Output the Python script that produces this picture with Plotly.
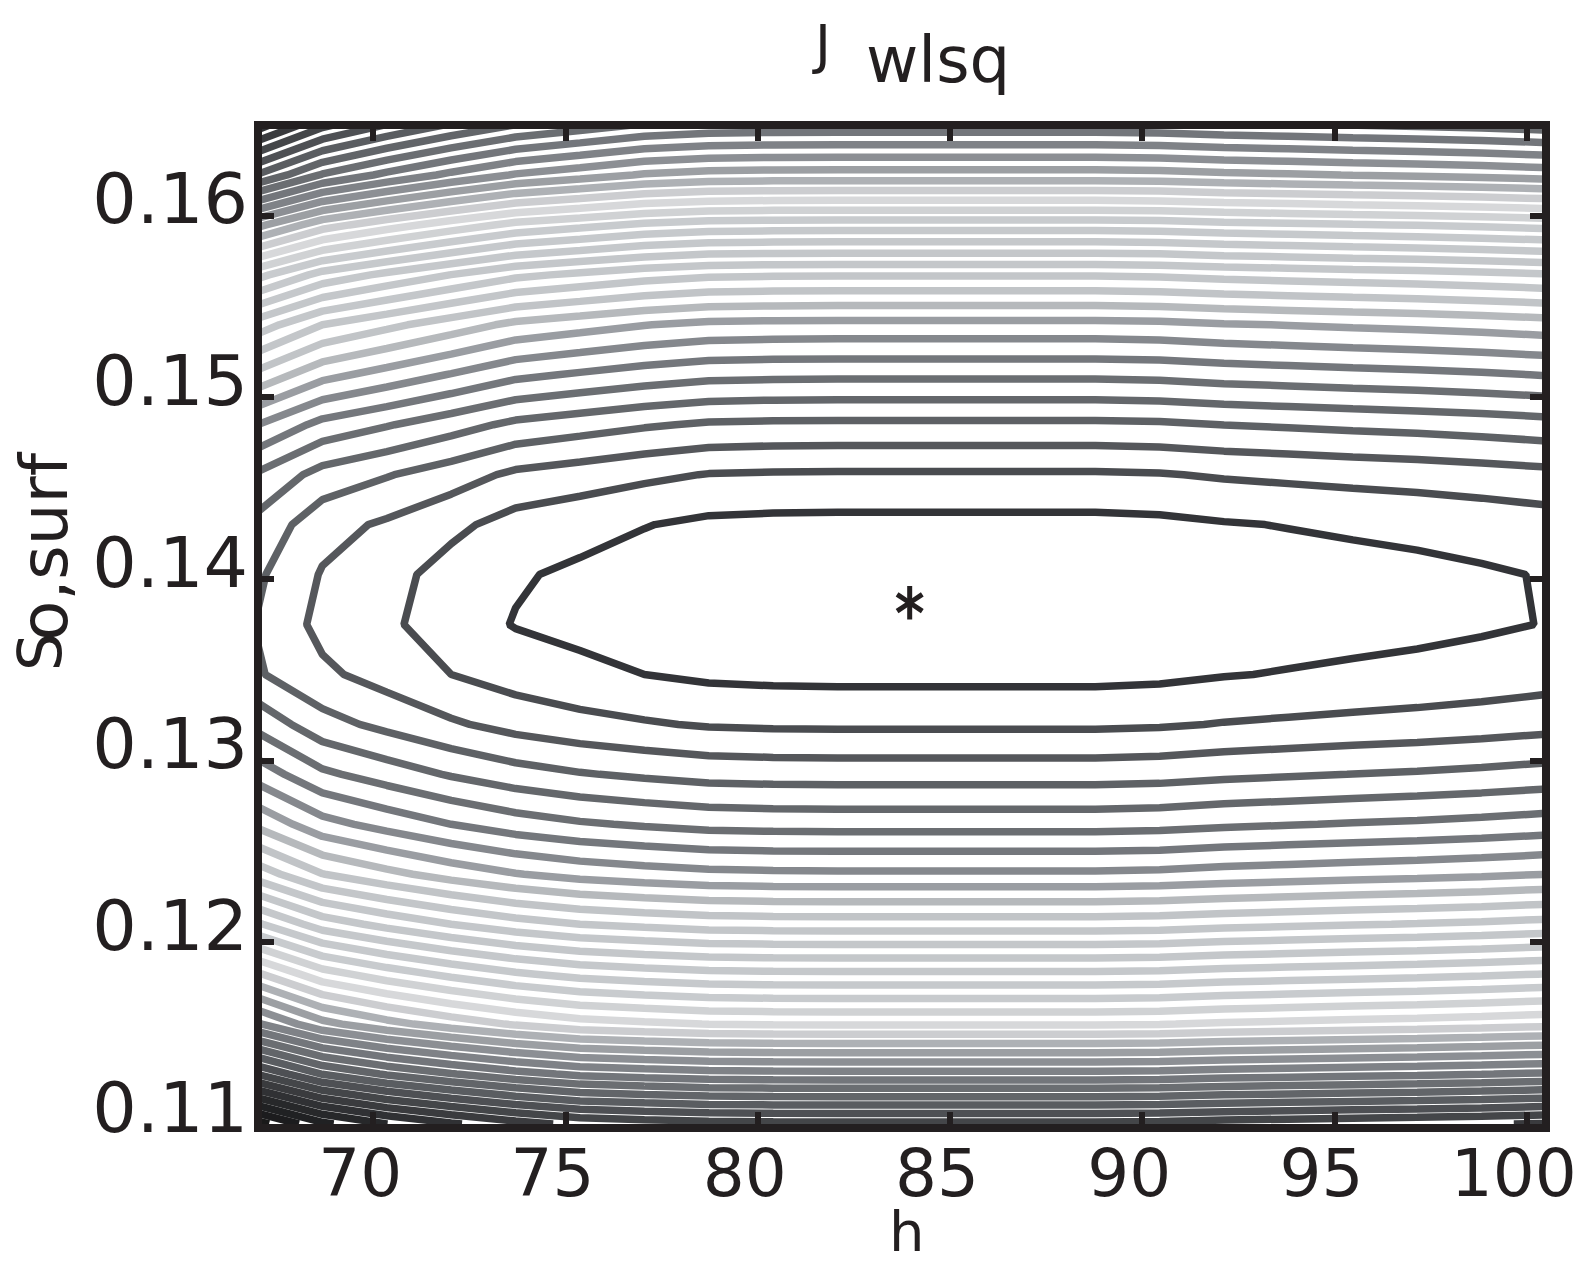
import plotly.graph_objects as go

# ---------------- data ----------------
h_vals = [67.0, 68.675, 70.35, 72.025, 73.7, 75.375, 77.05, 78.725, 80.4, 82.075,
          83.75, 85.425, 87.1, 88.775, 90.45, 92.125, 93.8, 95.475, 97.15, 98.825, 100.5]
s_vals = [0.110, 0.11275, 0.1155, 0.11825, 0.121, 0.12375, 0.1265, 0.12925, 0.132, 0.13475,
          0.1375, 0.14025, 0.143, 0.14575, 0.1485, 0.15125, 0.154, 0.15675, 0.1595, 0.16225, 0.165]

# J_wlsq[i][j] : row i -> s_vals[i], column j -> h_vals[j]
J_wlsq = [
    [36.37, 34.21, 33.01, 32.13, 31.35, 30.75, 30.52, 30.33, 30.27, 30.25, 30.25, 30.25, 30.25, 30.25, 30.31, 30.47, 30.58, 30.69, 30.79, 30.92, 31.08],
    [29.94, 27.97, 26.88, 26.06, 25.34, 24.80, 24.57, 24.38, 24.32, 24.30, 24.30, 24.30, 24.30, 24.30, 24.36, 24.52, 24.63, 24.74, 24.84, 24.97, 25.13],
    [24.11, 22.30, 21.32, 20.55, 19.89, 19.40, 19.17, 18.98, 18.92, 18.90, 18.90, 18.90, 18.90, 18.90, 18.96, 19.12, 19.23, 19.34, 19.44, 19.57, 19.73],
    [20.11, 18.40, 17.50, 16.76, 16.14, 15.69, 15.46, 15.27, 15.21, 15.19, 15.19, 15.19, 15.19, 15.19, 15.25, 15.41, 15.52, 15.63, 15.73, 15.86, 16.02],
    [16.12, 14.53, 13.70, 13.00, 12.42, 12.00, 11.77, 11.58, 11.52, 11.50, 11.50, 11.50, 11.50, 11.50, 11.56, 11.72, 11.83, 11.94, 12.04, 12.17, 12.33],
    [12.52, 11.03, 10.27, 9.60, 9.05, 8.67, 8.44, 8.25, 8.19, 8.17, 8.17, 8.17, 8.17, 8.17, 8.23, 8.39, 8.50, 8.61, 8.71, 8.84, 9.00],
    [9.77, 8.35, 7.64, 7.00, 6.48, 6.12, 5.89, 5.70, 5.64, 5.62, 5.62, 5.62, 5.62, 5.62, 5.68, 5.84, 5.95, 6.06, 6.16, 6.29, 6.45],
    [7.56, 6.20, 5.53, 4.91, 4.41, 4.07, 3.84, 3.65, 3.59, 3.57, 3.57, 3.57, 3.57, 3.57, 3.63, 3.79, 3.90, 4.01, 4.11, 4.24, 4.40],
    [5.68, 4.37, 3.73, 3.14, 2.65, 2.33, 2.10, 1.91, 1.85, 1.83, 1.83, 1.83, 1.83, 1.83, 1.89, 2.05, 2.16, 2.27, 2.37, 2.50, 2.66],
    [4.10, 3.20, 2.60, 2.00, 1.55, 1.23, 1.00, 0.81, 0.75, 0.73, 0.73, 0.73, 0.73, 0.73, 0.79, 0.95, 1.06, 1.17, 1.27, 1.40, 1.56],
    [3.93, 2.70, 2.20, 1.45, 0.95, 0.75, 0.50, 0.28, 0.22, 0.20, 0.20, 0.20, 0.20, 0.20, 0.26, 0.42, 0.53, 0.64, 0.74, 0.87, 1.03],
    [4.15, 2.92, 2.35, 1.60, 1.10, 0.83, 0.55, 0.30, 0.24, 0.22, 0.22, 0.22, 0.22, 0.22, 0.28, 0.44, 0.55, 0.66, 0.76, 0.89, 1.05],
    [4.70, 3.37, 2.85, 2.25, 1.60, 1.33, 1.04, 0.79, 0.73, 0.71, 0.71, 0.71, 0.71, 0.71, 0.77, 0.93, 1.04, 1.15, 1.25, 1.38, 1.54],
    [5.86, 4.63, 4.07, 3.48, 2.80, 2.51, 2.21, 1.96, 1.90, 1.88, 1.88, 1.88, 1.88, 1.88, 1.94, 2.10, 2.21, 2.32, 2.42, 2.55, 2.71],
    [7.99, 6.69, 6.08, 5.44, 4.77, 4.44, 4.12, 3.87, 3.81, 3.79, 3.79, 3.79, 3.79, 3.79, 3.85, 4.01, 4.12, 4.23, 4.33, 4.46, 4.62],
    [10.71, 9.31, 8.62, 7.94, 7.23, 6.88, 6.54, 6.29, 6.23, 6.21, 6.21, 6.21, 6.21, 6.21, 6.27, 6.43, 6.54, 6.65, 6.75, 6.88, 7.04],
    [13.49, 12.00, 11.24, 10.50, 9.77, 9.40, 9.03, 8.78, 8.72, 8.70, 8.70, 8.70, 8.70, 8.70, 8.76, 8.92, 9.03, 9.14, 9.24, 9.37, 9.53],
    [17.28, 15.65, 14.78, 13.98, 13.22, 12.81, 12.41, 12.16, 12.10, 12.08, 12.08, 12.08, 12.08, 12.08, 12.14, 12.30, 12.41, 12.52, 12.62, 12.75, 12.91],
    [22.23, 20.42, 19.43, 18.54, 17.73, 17.28, 16.83, 16.58, 16.52, 16.50, 16.50, 16.50, 16.50, 16.50, 16.56, 16.72, 16.83, 16.94, 17.04, 17.17, 17.33],
    [27.92, 25.91, 24.76, 23.77, 22.91, 22.41, 21.91, 21.66, 21.60, 21.58, 21.58, 21.58, 21.58, 21.58, 21.64, 21.80, 21.91, 22.02, 22.12, 22.25, 22.41],
    [32.39, 30.22, 28.95, 27.88, 26.98, 26.44, 25.90, 25.65, 25.59, 25.57, 25.57, 25.57, 25.57, 25.57, 25.63, 25.79, 25.90, 26.01, 26.11, 26.24, 26.40],
]

h_opt = [83.95]
s_opt = [0.1387]

x_ticks = [70, 75, 80, 85, 90, 95, 100]
y_ticks = [0.11, 0.12, 0.13, 0.14, 0.15, 0.16]

# contour levels 1..37 and the grey of each level line
lev_start, lev_end = 1, 37
level_colors = [
    "#333438", "#4a4c50", "#55575b", "#5e6165", "#64676b", "#6b6e72", "#74777c",
    "#85888d", "#9a9da2", "#b6b9bc", "#c1c4c7", "#c3c6c9", "#c4c7ca", "#c4c7ca",
    "#c5c8cb", "#c6c9cc", "#c8cbce", "#d0d2d4", "#d7d8da", "#cccdd0", "#aeb1b5",
    "#9c9fa3", "#8c8f94", "#7f8287", "#73767b", "#6b6e72", "#626569", "#5a5d61",
    "#4e5054", "#444649", "#3a3b3e", "#303134", "#27282a", "#202123", "#1c1c1e",
    "#1a1a1a", "#1a1a1a",
]
n = len(level_colors) - 1
colorscale = [[k / n, c] for k, c in enumerate(level_colors)]

INK = "#231f20"
FONT = "DejaVu Sans"

# plot-area geometry (pixels)
W, H = 1588, 1267
L, R, T, B = 262, 1542, 129, 1124


def px(x):
    return (x - L) / (R - L)


def py(y):
    return (B - y) / (B - T)


fig = go.Figure()
fig.add_trace(go.Contour(
    x=h_vals, y=s_vals, z=J_wlsq,
    colorscale=colorscale, showscale=False,
    contours=dict(coloring="lines", start=lev_start, end=lev_end, size=1, showlabels=False),
    line=dict(width=7.5, smoothing=0),
    hoverinfo="skip",
))
for sym in ["y-up-open", "y-down-open"]:
    fig.add_trace(go.Scatter(
        x=h_opt, y=s_opt, mode="markers",
        marker=dict(symbol=sym, size=21, line=dict(width=5, color=INK), color=INK),
        showlegend=False, hoverinfo="skip",
    ))

axis_common = dict(
    showgrid=False, zeroline=False, showline=True, linewidth=8, linecolor=INK,
    mirror="ticks", ticks="inside", ticklen=12, tickwidth=6, tickcolor=INK,
)
fig.update_xaxes(range=[67.104, 100.396], tickvals=x_ticks, ticktext=[str(v) for v in x_ticks],
                 tickfont=dict(family=FONT, size=66, color=INK),
                 ticklabelshift=-13, ticklabelstandoff=-15, **axis_common)
fig.update_yaxes(range=[0.110, 0.164781], tickvals=y_ticks, ticktext=["%.2f" % v for v in y_ticks],
                 tickfont=dict(family=FONT, size=70, color=INK),
                 ticklabelshift=-17, ticklabelstandoff=-8, **axis_common)

ann = []
ann.append(dict(text="J", x=px(821), y=py(45), xref="paper", yref="paper", showarrow=False,
                xanchor="center", yanchor="middle", font=dict(family=FONT, size=54, color=INK)))
ann.append(dict(text="wlsq", x=px(938), y=py(60), xref="paper", yref="paper", showarrow=False,
                xanchor="center", yanchor="middle", font=dict(family=FONT, size=64, color=INK)))
ann.append(dict(text="h", x=px(907), y=py(1266), xref="paper", yref="paper", showarrow=False,
                xanchor="center", yanchor="bottom", font=dict(family=FONT, size=56, color=INK)))
ann.append(dict(text="S", x=px(40), y=py(652), xref="paper", yref="paper", showarrow=False,
                textangle=-90, xanchor="center", yanchor="middle", font=dict(family=FONT, size=60, color=INK)))
ann.append(dict(text="o,surf", x=px(44), y=py(546), xref="paper", yref="paper", showarrow=False,
                textangle=-90, xanchor="center", yanchor="middle", font=dict(family=FONT, size=66, color=INK)))

fig.update_layout(
    width=W, height=H, autosize=False,
    margin=dict(l=L, r=W - R, t=T, b=H - B, pad=0),
    paper_bgcolor="white", plot_bgcolor="white",
    showlegend=False, annotations=ann,
)

fig.write_html("out.html")
